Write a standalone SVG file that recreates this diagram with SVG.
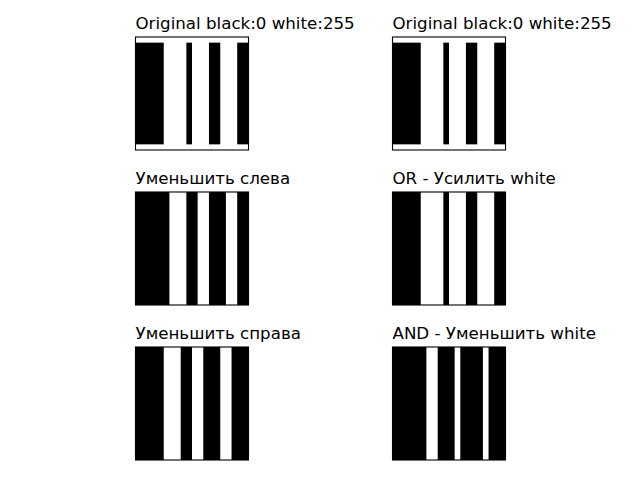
<svg xmlns="http://www.w3.org/2000/svg" width="640" height="480" viewBox="0 0 640 480">
<style>
.t{font-family:"DejaVu Sans",sans-serif;font-size:16.67px;fill:#000}
.f{fill:none;stroke:#000;stroke-width:1.1}
.b{fill:#000}
</style>
<rect width="640" height="480" fill="#fff"/>
<g id="p1" transform="translate(135.5,37)">
<text class="t" x="0" y="-8">Original black:0 white:255</text>
<g transform="scale(5.65)"><rect width="20" height="20" fill="#fff"/>
<rect class="b" x="0" y="1" width="5" height="18"/><rect class="b" x="9" y="1" width="1" height="18"/><rect class="b" x="13" y="1" width="2" height="18"/><rect class="b" x="18" y="1" width="2" height="18"/></g>
<rect class="f" width="113" height="113"/>
</g>
<g id="p2" transform="translate(392.5,37)">
<text class="t" x="0" y="-8">Original black:0 white:255</text>
<g transform="scale(5.65)"><rect width="20" height="20" fill="#fff"/>
<rect class="b" x="0" y="1" width="5" height="18"/><rect class="b" x="9" y="1" width="1" height="18"/><rect class="b" x="13" y="1" width="2" height="18"/><rect class="b" x="18" y="1" width="2" height="18"/></g>
<rect class="f" width="113" height="113"/>
</g>
<g id="p3" transform="translate(135.5,192)">
<text class="t" x="0" y="-8">Уменьшить слева</text>
<g transform="scale(5.65)"><rect width="20" height="20" fill="#fff"/>
<rect class="b" x="0" y="0" width="6" height="20"/><rect class="b" x="9" y="0" width="2" height="20"/><rect class="b" x="13" y="0" width="3" height="20"/><rect class="b" x="18" y="0" width="2" height="20"/></g>
<rect class="f" width="113" height="113"/>
</g>
<g id="p4" transform="translate(392.5,192)">
<text class="t" x="0" y="-8">OR - Усилить white</text>
<g transform="scale(5.65)"><rect width="20" height="20" fill="#fff"/>
<rect class="b" x="0" y="0" width="5" height="20"/><rect class="b" x="9" y="0" width="1" height="20"/><rect class="b" x="13" y="0" width="2" height="20"/><rect class="b" x="18" y="0" width="2" height="20"/></g>
<rect class="f" width="113" height="113"/>
</g>
<g id="p5" transform="translate(135.5,347)">
<text class="t" x="0" y="-8">Уменьшить справа</text>
<g transform="scale(5.65)"><rect width="20" height="20" fill="#fff"/>
<rect class="b" x="0" y="0" width="5" height="20"/><rect class="b" x="8" y="0" width="2" height="20"/><rect class="b" x="12" y="0" width="3" height="20"/><rect class="b" x="17" y="0" width="3" height="20"/></g>
<rect class="f" width="113" height="113"/>
</g>
<g id="p6" transform="translate(392.5,347)">
<text class="t" x="0" y="-8">AND - Уменьшить white</text>
<g transform="scale(5.65)"><rect width="20" height="20" fill="#fff"/>
<rect class="b" x="0" y="0" width="6" height="20"/><rect class="b" x="8" y="0" width="3" height="20"/><rect class="b" x="12" y="0" width="4" height="20"/><rect class="b" x="17" y="0" width="3" height="20"/></g>
<rect class="f" width="113" height="113"/>
</g>
<g id="connectors"/>
</svg>
